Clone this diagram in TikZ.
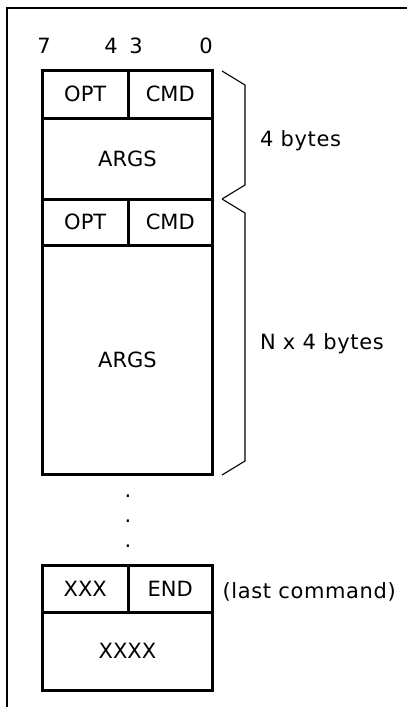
\documentclass[tikz,border=0pt]{standalone}
\usepackage{fontspec}
\setmainfont{DejaVu Sans}
\newfontfamily\sidefont[LetterSpace=3]{DejaVu Sans}
\begin{document}
\begin{tikzpicture}[x=1pt,y=-1pt,
  cell/.style={draw,line width=3pt,inner sep=0pt,outer sep=0pt,
    minimum width=#1},
  lbl/.style={inner sep=0pt,outer sep=0pt},
  sidelbl/.style={lbl,anchor=base west,font=\sidefont\fontsize{21}{25}\selectfont},
  bracket/.style={line width=1.1pt},
  frameline/.style={line width=2pt}]
\useasboundingbox (0,0) rectangle (407,707);
\fontsize{21}{25}\selectfont
% outer frame (top and left edges)
\coordinate (ftr) at (407,8);
\coordinate (ftl) at (7,8);
\coordinate (fbl) at (7,707);
\draw[frameline] (ftr) -- (ftl) -- (fbl);
% bit numbers
\node[lbl,anchor=base] (b7) at (44,53) {7};
\node[lbl,anchor=base] (b4) at (111,53) {4};
\node[lbl,anchor=base] (b3) at (136,53) {3};
\node[lbl,anchor=base] (b0) at (206,53) {0};
% first command (4 bytes)
\node[cell=85.5pt,minimum height=47.5pt] (opt1) at (85.25,94.25) {OPT};
\node[cell=84.5pt,minimum height=47.5pt] (cmd1) at (170.25,94.25) {CMD};
\node[cell=170pt,minimum height=81pt] (args1) at (127.5,158.5) {ARGS};
% second command (N x 4 bytes)
\node[cell=85.5pt,minimum height=46pt] (opt2) at (85.25,222) {OPT};
\node[cell=84.5pt,minimum height=46pt] (cmd2) at (170.25,222) {CMD};
\node[cell=170pt,minimum height=229pt] (args2) at (127.5,359.5) {ARGS};
% dots
\node[lbl,anchor=base] (d1) at (128,497) {.};
\node[lbl,anchor=base] (d2) at (128,522) {.};
\node[lbl,anchor=base] (d3) at (128,547) {.};
% last command
\node[cell=85.5pt,minimum height=47pt] (xxx) at (85.25,588.5) {XXX};
\node[cell=84.5pt,minimum height=47pt] (end) at (170.25,588.5) {END};
\node[cell=170pt,minimum height=78pt] (xxxx) at (127.5,651) {XXXX};
% brackets
\coordinate (a1) at (222,71);
\coordinate (a2) at (245,85);
\coordinate (a3) at (245,185);
\coordinate (a4) at (222,199);
\draw[bracket] (a1) -- (a2) -- (a3) -- (a4);
\coordinate (c1) at (222,199);
\coordinate (c2) at (245,213);
\coordinate (c3) at (245,461);
\coordinate (c4) at (222,475);
\draw[bracket] (c1) -- (c2) -- (c3) -- (c4);
% size labels
\node[sidelbl] (s1) at (260,146) {4 bytes};
\node[sidelbl] (s2) at (260,349) {N x 4 bytes};
\node[sidelbl] (s3) at (222.5,598) {(last command)};
\end{tikzpicture}
\end{document}
